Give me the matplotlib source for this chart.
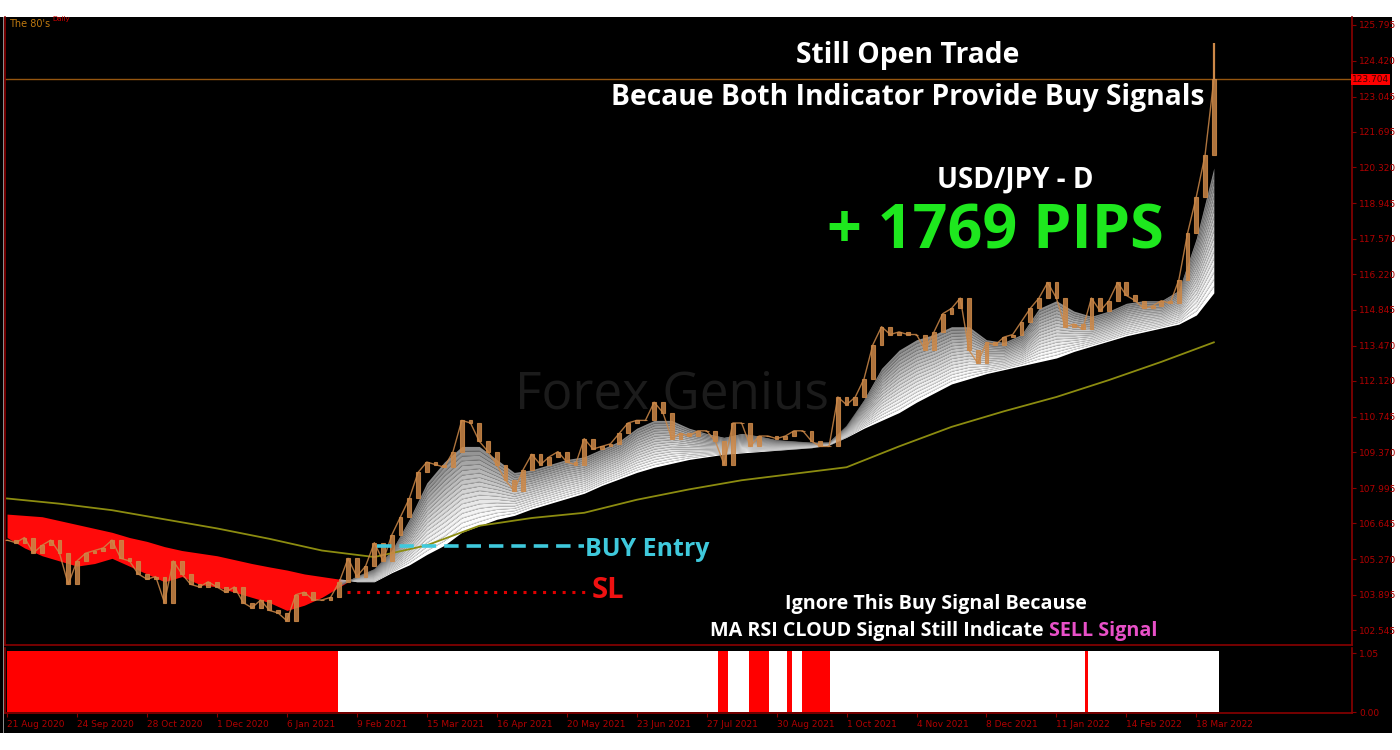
import numpy as np
import matplotlib.pyplot as plt
from matplotlib.patches import Rectangle

# USD/JPY daily, 21 Aug 2020 -> 28 Mar 2022, one close read every 3 bars
closes = [106.0, 105.9, 106.1, 105.5, 105.8, 106.0, 105.5, 104.3, 105.2, 105.5,
          105.6, 105.7, 106.0, 105.3, 105.2, 104.7, 104.5, 104.6, 103.6, 105.2,
          104.7, 104.3, 104.2, 104.4, 104.2, 104.0, 104.2, 103.6, 103.4, 103.7,
          103.3, 103.2, 102.9, 103.9, 104.0, 103.7, 103.7, 103.8, 104.4, 105.3,
          104.6, 105.0, 105.9, 105.2, 106.2, 106.9, 107.6, 108.6, 109.0, 108.9,
          108.8, 109.4, 110.6, 110.5, 109.8, 109.4, 108.9, 108.3, 107.9, 108.7,
          109.3, 108.9, 109.2, 109.4, 109.0, 108.9, 109.9, 109.5, 109.6, 109.7,
          110.1, 110.5, 110.6, 110.6, 111.3, 110.9, 109.9, 110.1, 110.0, 110.2,
          110.2, 109.8, 108.9, 110.5, 110.5, 109.6, 110.0, 110.0, 109.9, 110.0,
          110.2, 110.2, 109.8, 109.6, 109.6, 111.5, 111.2, 111.5, 112.2, 113.5,
          114.2, 113.9, 114.0, 113.9, 113.9, 113.3, 114.0, 114.7, 114.9, 115.3,
          113.3, 112.8, 113.6, 113.5, 113.8, 113.9, 114.4, 114.9, 115.3, 115.9,
          115.3, 114.2, 114.3, 114.1, 115.3, 114.8, 115.2, 115.9, 115.4, 115.2,
          114.9, 115.0, 115.2, 115.1, 116.0, 117.8, 119.2, 120.8, 123.704]
close_step = 3
last_high = 125.1
last_price = 123.704

# MA cloud edges, every 6 bars
cloud_fast = [106.1, 105.7, 105.4, 105.2, 105.0, 105.1, 105.3, 105.0, 104.7, 104.4,
              104.6, 104.3, 104.2, 104.0, 103.8, 103.6, 103.3, 103.5, 103.8, 104.2,
              104.6, 104.9, 105.6, 106.8, 108.2, 109.0, 109.6, 109.6, 109.1, 108.6,
              108.7, 108.9, 109.1, 109.2, 109.5, 109.8, 110.3, 110.6, 110.6, 110.3,
              110.1, 109.95, 110.1, 110.0, 109.85, 109.8, 109.75, 109.75, 110.4, 111.4,
              112.6, 113.3, 113.7, 113.9, 114.2, 114.2, 113.7, 113.6, 113.9, 114.9,
              115.2, 114.8, 114.6, 114.8, 115.1, 115.2, 115.2, 115.6, 117.6, 120.3]
cloud_slow = [107.0, 106.95, 106.9, 106.75, 106.6, 106.45, 106.3, 106.1, 105.95, 105.75,
              105.6, 105.5, 105.4, 105.25, 105.1, 104.97, 104.85, 104.7, 104.6, 104.5,
              104.4, 104.4, 104.75, 105.05, 105.45, 105.8, 106.3, 106.55, 106.8, 106.95,
              107.2, 107.4, 107.6, 107.8, 108.1, 108.35, 108.6, 108.8, 108.95, 109.1,
              109.2, 109.3, 109.35, 109.4, 109.45, 109.5, 109.55, 109.65, 109.95, 110.3,
              110.6, 110.9, 111.3, 111.65, 112.0, 112.2, 112.4, 112.55, 112.7, 112.85,
              113.0, 113.25, 113.45, 113.65, 113.85, 114.0, 114.15, 114.3, 114.65, 115.5]
cloud_step = 6

# long moving average, every 18 bars
ma_long = [107.6, 107.4, 107.15, 106.8, 106.45, 106.05, 105.6, 105.35, 105.8, 106.55,
           106.85, 107.05, 107.55, 107.95, 108.3, 108.55, 108.8, 109.6, 110.35, 110.95,
           111.5, 112.15, 112.85, 113.6]
ma_step = 18

# signal histogram: (signal, first bar, last bar)
signal_segments = [('sell', 0, 113.5), ('buy', 113.5, 244), ('sell', 244, 247.3),
                   ('buy', 247.3, 254.5), ('sell', 254.5, 261.4), ('buy', 261.4, 267.6),
                   ('sell', 267.6, 269.3), ('buy', 269.3, 272.7), ('sell', 272.7, 282.3),
                   ('buy', 282.3, 369.8), ('sell', 369.8, 370.8), ('buy', 370.8, 415.8)]

buy_entry = 105.77
stop_loss = 103.99
buy_span = (127, 198)
sl_span = (116.5, 200.5)

date_labels = ['21 Aug 2020', '24 Sep 2020', '28 Oct 2020', '1 Dec 2020', '6 Jan 2021',
               '9 Feb 2021', '15 Mar 2021', '16 Apr 2021', '20 May 2021', '23 Jun 2021',
               '27 Jul 2021', '30 Aug 2021', '1 Oct 2021', '4 Nov 2021', '8 Dec 2021',
               '11 Jan 2022', '14 Feb 2022', '18 Mar 2022']
date_step = 24
price_ticks = [125.795, 124.420, 123.045, 121.695, 120.320, 118.945, 117.570, 116.220,
               114.845, 113.470, 112.120, 110.745, 109.370, 107.995, 106.645, 105.270,
               103.895, 102.545]

W, H = 1400, 750
AXRED = '#8a0000'
LBLRED = '#b00000'
ORANGE = '#cc8848'

fig = plt.figure(figsize=(14, 7.5), dpi=100, facecolor='white')
fig.patches.append(Rectangle((0, 1 - 733 / H), 1392 / W, (733 - 17) / H,
                             transform=fig.transFigure, facecolor='black', zorder=-5))
fig.patches.append(Rectangle((2.5 / W, 1 - 733 / H), 1.5 / W, (733 - 17) / H,
                             transform=fig.transFigure, facecolor='#8c8c8c', zorder=-4))


def box(x0, y0, x1, y1):
    return [x0 / W, 1 - y1 / H, (x1 - x0) / W, (y1 - y0) / H]


ax = fig.add_axes(box(5, 17, 1352, 645))
ax2 = fig.add_axes(box(5, 648, 1352, 713), sharex=ax)
for a in (ax, ax2):
    a.set_facecolor('black')
    for s in a.spines.values():
        s.set_color(AXRED)
        s.set_linewidth(1.2)
    a.spines['top'].set_visible(False)

xc = np.arange(len(closes)) * close_step
xk = np.arange(len(cloud_fast)) * cloud_step
xm = np.arange(len(ma_long)) * ma_step
fast = np.array(cloud_fast)
slow = np.array(cloud_slow)

# red (bearish) cloud
ax.fill_between(xk, slow, fast, where=fast < slow, interpolate=True,
                color='#ff0a0a', lw=0, zorder=2)
# white/grey ribbon (bullish)
up = fast >= slow
vis = up | np.roll(up, -1)
n = 18
for j in range(n):
    lo = slow + (fast - slow) * j / n
    hi = slow + (fast - slow) * (j + 1) / n
    g = 1.0 - 0.45 * (j / (n - 1)) ** 1.3
    ax.fill_between(xk, lo, hi, where=up, interpolate=True,
                    color=(g, g, g), lw=0, zorder=2)
    if j > 0:
        ax.plot(xk[vis], lo[vis], color=(g * 0.78, g * 0.78, g * 0.78), lw=0.35, zorder=2)

# long MA
ax.plot(xm, ma_long, color='#8c8c10', lw=1.3, zorder=3)

# price candles: body from previous close to close
opens = np.r_[closes[0], closes[:-1]]
ax.plot(xc, closes, color=ORANGE, lw=1.0, alpha=0.85, zorder=4)
ax.bar(xc, np.array(closes) - opens, bottom=opens, width=1.3,
       color=ORANGE, alpha=0.85, lw=0.8, edgecolor=ORANGE, zorder=4)
ax.vlines(xc[-1], closes[-1], last_high, color=ORANGE, lw=1.6, zorder=4)

# current price line
ax.axhline(last_price, color='#95560f', lw=1.0, zorder=1)

# trade levels
ax.plot(buy_span, [buy_entry] * 2, color='#3fc9dc', lw=2.6, ls=(0, (4, 2.2)), zorder=5)
ax.plot(sl_span, [stop_loss] * 2, color='#e00000', lw=2.2, ls=(0, (1, 2.2)), zorder=5)

ax.set_ylim(101.97, 126.10)
ax.set_xlim(-0.7, 461.4)
ax.yaxis.tick_right()
ax.set_yticks(price_ticks)
ax.set_yticklabels([f'{v:.3f}' for v in price_ticks])
ax.tick_params(axis='y', colors=AXRED, labelcolor=LBLRED, labelsize=6.5,
               length=3, width=0.8, pad=2)
ax.tick_params(axis='x', bottom=False, labelbottom=False)
ax.text(1.0, last_price, f'{last_price:.3f}', transform=ax.get_yaxis_transform(),
        fontsize=6.5, color='#400000', va='center', ha='left',
        bbox=dict(boxstyle='square,pad=0.15', fc='#ff0000', ec='none'))

# signal panel
for sig, a0, a1 in signal_segments:
    ax2.bar(a0, 1.08, width=a1 - a0, align='edge',
            color='#ff0000' if sig == 'sell' else 'white', lw=0)
ax2.set_ylim(-0.017, 1.139)
ax2.yaxis.tick_right()
ax2.set_yticks([1.05, 0.0])
ax2.set_yticklabels(['1.05', '0.00'])
ax2.tick_params(axis='y', colors=AXRED, labelcolor=LBLRED, labelsize=6.5,
                length=3, width=0.8, pad=2)
ax2.set_xticks(np.arange(len(date_labels)) * date_step)
ax2.set_xticklabels(date_labels, ha='left')
ax2.tick_params(axis='x', colors=AXRED, labelcolor=LBLRED, labelsize=6.5,
                length=3, width=0.8, pad=2)


def ftext(x, y, s, **kw):
    return fig.text(x / W, 1 - y / H, s, **kw)


bold = dict(family='Open Sans', weight='bold')
ftext(908, 56, 'Still Open Trade', color='white', fontsize=20.3, ha='center',
      va='center', **bold)
ftext(908, 97, 'Becaue Both Indicator Provide Buy Signals', color='white',
      fontsize=20.3, ha='center', va='center', **bold)
ftext(1015, 180, 'USD/JPY - D', color='white', fontsize=20, ha='center',
      va='center', **bold)
ftext(995, 233, '+ 1769 PIPS', color='#1ee81e', fontsize=44, ha='center',
      va='center', **bold)
ftext(936, 604, 'Ignore This Buy Signal Because', color='white', fontsize=14.2,
      ha='center', va='center', **bold)
t1 = ftext(710, 631, 'MA RSI CLOUD Signal Still Indicate ', color='white',
           fontsize=14.2, ha='left', va='center', **bold)
fig.canvas.draw()
bb = t1.get_window_extent()
fig.text(bb.x1 / W, 1 - 631 / H, 'SELL Signal', color='#e850c8', fontsize=14.2,
         ha='left', va='center', **bold)
ftext(585, 549, 'BUY Entry', color='#3fc9dc', fontsize=17.9, ha='left',
      va='center', **bold)
ftext(592, 591, 'SL', color='#ee1111', fontsize=21, ha='left', va='center', **bold)
ftext(672, 395, 'Forex Genius', color='#1b1b1b', fontsize=37, ha='center',
      va='center', family='Open Sans')
ftext(9, 24, "The 80's", color='#c07a10', fontsize=7, ha='left', va='center')
ftext(52, 19, 'Daily', color='#d00000', fontsize=5, ha='left', va='center')

fig.savefig('out.png', dpi=100, facecolor='white')
